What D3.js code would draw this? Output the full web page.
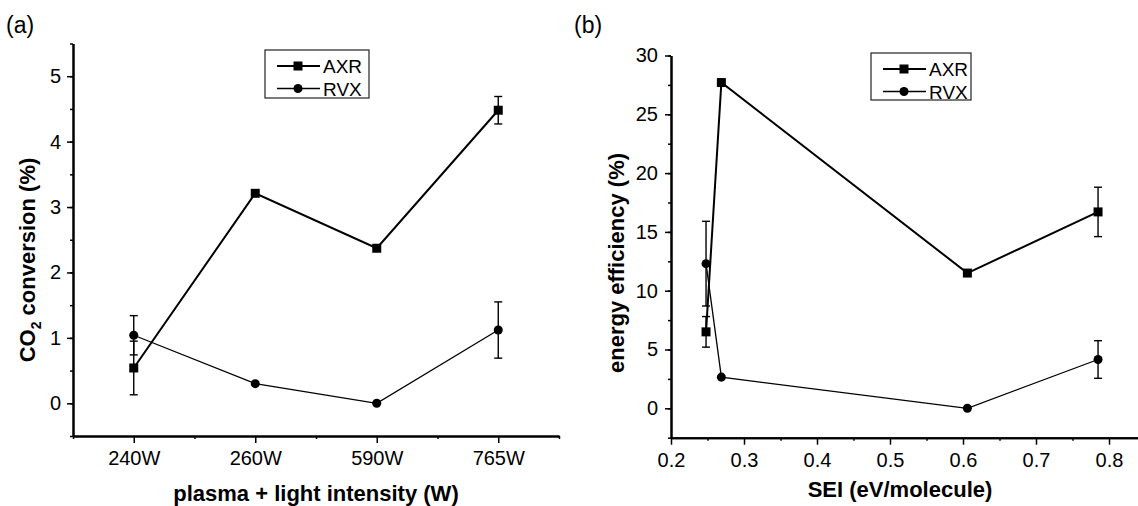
<!DOCTYPE html>
<html>
<head>
<meta charset="utf-8">
<script src="https://cdn.jsdelivr.net/npm/d3@7"></script>
<style>
  body { margin: 0; background: #fff; }
  svg text { font-family: "Liberation Sans", Arial, sans-serif; fill: #000; }
</style>
</head>
<body>
<div id="chart"></div>
<script>
// panel (a) : conversion vs. power
var categories = ["240W", "260W", "590W", "765W"];
var axrConversion = [0.54, 3.21, 2.37, 4.48];
var axrConversionErr = [0.41, 0, 0, 0.21];
var rvxConversion = [1.04, 0.30, 0.0, 1.12];
var rvxConversionErr = [0.30, 0, 0, 0.43];

// panel (b) : energy efficiency vs. SEI
var seiAXR = [0.248, 0.269, 0.606, 0.785];
var seiRVX = [0.248, 0.269, 0.606, 0.785];
var axrEfficiency = [6.5, 27.7, 11.5, 16.7];
var axrEfficiencyErr = [1.3, 0, 0, 2.1];
var rvxEfficiency = [12.3, 2.65, 0.0, 4.15];
var rvxEfficiencyErr = [3.6, 0, 0, 1.6];

var seiTicks = [0.2, 0.3, 0.4, 0.5, 0.6, 0.7, 0.8];
var effTicks = [0, 5, 10, 15, 20, 25, 30];
var convTicks = [0, 1, 2, 3, 4, 5];

var width = 1138, height = 506;
var font = "'Liberation Sans', Arial, sans-serif";

var svg = d3.select("#chart")
    .append("svg")
    .attr("width", width)
    .attr("height", height);

svg.append("rect").attr("width", width).attr("height", height).attr("fill", "#fff");

function range(a, b, step) {
    var out = [];
    for (var v = a; v <= b + 1e-9; v += step) out.push(+v.toFixed(4));
    return out;
}

function styleAxis(sel) {
    sel.attr("font-family", font).attr("font-size", 20);
    sel.select(".domain").attr("stroke", "#000").attr("stroke-width", 2);
    sel.selectAll(".tick line").attr("stroke", "#000").attr("stroke-width", 1.5);
    sel.selectAll(".tick text").attr("fill", "#000");
}

function drawPanel(p) {
    var g = svg.append("g");

    // minor ticks first, majors drawn over them
    g.append("g")
        .attr("transform", "translate(0," + p.y.range()[0] + ")")
        .call(d3.axisBottom(p.x).tickValues(p.xMinor).tickSize(3).tickSizeOuter(0).tickFormat(""))
        .call(styleAxis);
    g.append("g")
        .attr("transform", "translate(" + p.x.range()[0] + ",0)")
        .call(d3.axisLeft(p.y).tickValues(p.yMinor).tickSize(3).tickSizeOuter(0).tickFormat(""))
        .call(styleAxis);

    g.append("g")
        .attr("transform", "translate(0," + p.y.range()[0] + ")")
        .call(d3.axisBottom(p.x).tickValues(p.xMajor).tickSize(7).tickSizeOuter(0)
            .tickPadding(p.xPad).tickFormat(p.xFormat))
        .call(styleAxis);
    g.append("g")
        .attr("transform", "translate(" + p.x.range()[0] + ",0)")
        .call(d3.axisLeft(p.y).tickValues(p.yMajor).tickSize(6).tickSizeOuter(0)
            .tickPadding(p.yPad).tickFormat(d3.format("d")))
        .call(styleAxis);

    // series
    p.series.forEach(function(s) {
        var pts = s.xs.map(function(xv, i) { return {x: xv, y: s.ys[i], e: s.errs[i]}; });

        var bars = g.append("g").selectAll("g.err")
            .data(pts.filter(function(d) { return d.e > 0; }))
            .enter().append("g")
            .attr("stroke", "#000")
            .attr("stroke-width", 1.4);
        bars.append("line")
            .attr("x1", function(d) { return p.x(d.x); })
            .attr("x2", function(d) { return p.x(d.x); })
            .attr("y1", function(d) { return p.y(d.y - d.e); })
            .attr("y2", function(d) { return p.y(d.y + d.e); });
        [-1, 1].forEach(function(sgn) {
            bars.append("line")
                .attr("x1", function(d) { return p.x(d.x) - 4; })
                .attr("x2", function(d) { return p.x(d.x) + 4; })
                .attr("y1", function(d) { return p.y(d.y + sgn * d.e); })
                .attr("y2", function(d) { return p.y(d.y + sgn * d.e); });
        });

        g.append("path")
            .datum(pts)
            .attr("fill", "none")
            .attr("stroke", "#000")
            .attr("stroke-width", s.lw)
            .attr("d", d3.line().x(function(d) { return p.x(d.x); }).y(function(d) { return p.y(d.y); }));

        g.append("g").selectAll("path")
            .data(pts)
            .enter().append("path")
            .attr("transform", function(d) { return "translate(" + p.x(d.x) + "," + p.y(d.y) + ")"; })
            .attr("d", d3.symbol().type(s.symbol).size(s.size))
            .attr("fill", "#000");
    });

    // legend
    var lg = g.append("g").attr("transform", "translate(" + p.legend[0] + "," + p.legend[1] + ")");
    lg.append("rect")
        .attr("width", p.legend[2]).attr("height", p.legend[3])
        .attr("fill", "#fff").attr("stroke", "#222").attr("stroke-width", 1.2);
    p.series.forEach(function(s, i) {
        var cy = 16 + i * 22.5;
        lg.append("line")
            .attr("x1", 12).attr("x2", 55).attr("y1", cy).attr("y2", cy)
            .attr("stroke", "#000").attr("stroke-width", s.lw);
        lg.append("path")
            .attr("transform", "translate(33," + cy + ")")
            .attr("d", d3.symbol().type(s.symbol).size(s.size))
            .attr("fill", "#000");
        lg.append("text")
            .attr("x", 58).attr("y", cy + 7)
            .style("font-size", "19px")
            .text(s.name);
    });

    // panel label + axis titles
    svg.append("text")
        .attr("x", p.label[0]).attr("y", p.label[1])
        .style("font-size", "23px")
        .text(p.label[2]);

    svg.append("text")
        .attr("x", p.xTitle[0]).attr("y", p.xTitle[1])
        .attr("text-anchor", "middle")
        .style("font-size", "22px").style("font-weight", "bold")
        .text(p.xTitle[2]);

    var yt = svg.append("text")
        .attr("transform", "translate(" + p.yTitle[0] + "," + p.yTitle[1] + ") rotate(-90)")
        .attr("text-anchor", "middle")
        .style("font-size", "22px").style("font-weight", "bold");
    p.yTitle[2](yt);
}

// (a)
var xA = d3.scaleLinear().domain([0.5, categories.length + 0.5]).range([73, 559]);
var yA = d3.scaleLinear().domain([-0.5, 5.5]).range([436, 43.5]);
var catIdx = categories.map(function(c, i) { return i + 1; });

drawPanel({
    x: xA, y: yA,
    xMajor: catIdx, xMinor: range(0.5, 4.5, 1),
    yMajor: convTicks, yMinor: range(-0.5, 5.5, 0.5),
    xFormat: function(d) { return categories[d - 1]; },
    xPad: 8, yPad: 6,
    series: [
        {name: "AXR", xs: catIdx, ys: axrConversion, errs: axrConversionErr, symbol: d3.symbolSquare, size: 81, lw: 2},
        {name: "RVX", xs: catIdx, ys: rvxConversion, errs: rvxConversionErr, symbol: d3.symbolCircle, size: 64, lw: 1.3}
    ],
    legend: [265, 50, 104, 48],
    label: [6, 33, "(a)"],
    xTitle: [316, 501, "plasma + light intensity (W)"],
    yTitle: [35, 260, function(t) {
        t.append("tspan").text("CO");
        t.append("tspan").attr("dy", 6).style("font-size", "14px").text("2");
        t.append("tspan").attr("dy", -6).text(" conversion (%)");
    }]
});

// (b)
var xB = d3.scaleLinear().domain([0.2, 0.85]).range([671, 1145.5]);
var yB = d3.scaleLinear().domain([-2.5, 30]).range([437.7, 55.5]);

drawPanel({
    x: xB, y: yB,
    xMajor: seiTicks, xMinor: range(0.25, 0.85, 0.1),
    yMajor: effTicks, yMinor: range(-2.5, 30, 2.5),
    xFormat: d3.format(".1f"),
    xPad: 8, yPad: 7,
    series: [
        {name: "AXR", xs: seiAXR, ys: axrEfficiency, errs: axrEfficiencyErr, symbol: d3.symbolSquare, size: 81, lw: 2},
        {name: "RVX", xs: seiRVX, ys: rvxEfficiency, errs: rvxEfficiencyErr, symbol: d3.symbolCircle, size: 64, lw: 1.3}
    ],
    legend: [871, 53, 100, 47],
    label: [574, 33, "(b)"],
    xTitle: [900, 497, "SEI (eV/molecule)"],
    yTitle: [624, 263, function(t) { t.text("energy efficiency (%)"); }]
});
</script>
</body>
</html>
